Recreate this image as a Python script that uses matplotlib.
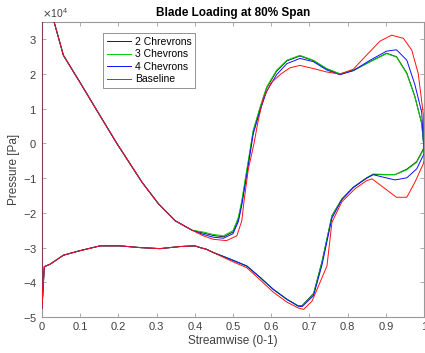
import matplotlib
matplotlib.use("Agg")
import matplotlib.pyplot as plt
from matplotlib.ticker import ScalarFormatter

plt.rcParams['font.family'] = ['Liberation Sans', 'DejaVu Sans']

# leading-edge part of the upper branch, shared by all cases (x, pressure in 1e4 Pa)
le_x = [0.0, 0.032, 0.056, 0.10, 0.141, 0.196, 0.262, 0.305, 0.349, 0.393]
le_p = [4.8, 3.49, 2.54, 1.75, 1.0, 0.0, -1.12, -1.74, -2.23, -2.50]

# lower branch, shared part from mid chord back to the leading edge
low_x = [0.641, 0.605, 0.571, 0.536, 0.492, 0.448, 0.431, 0.414, 0.40, 0.361,
         0.309, 0.257, 0.204, 0.152, 0.099, 0.056, 0.021, 0.006, 0.0]
low_p = [-4.49, -4.20, -3.86, -3.53, -3.33, -3.14, -3.05, -3.0, -2.95, -2.97,
         -3.03, -3.0, -2.95, -2.95, -3.09, -3.22, -3.48, -3.55, -4.75]

# per-case upper branch, trough -> plateau -> trailing edge
up_x = [0.422, 0.448, 0.475, 0.50, 0.514, 0.523, 0.538, 0.553, 0.571, 0.588, 0.614,
        0.641, 0.675, 0.71, 0.745, 0.78, 0.815, 0.859, 0.902, 0.928, 0.955, 0.976,
        0.994, 1.0]
up_2chev = [-2.58, -2.65, -2.69, -2.55, -2.18, -1.70, -0.68, 0.35, 1.02, 1.60, 2.08,
            2.38, 2.52, 2.39, 2.15, 2.0, 2.10, 2.36, 2.60, 2.50, 2.03, 1.36, 0.58, -0.12]
up_3chev = [-2.55, -2.62, -2.66, -2.51, -2.13, -1.65, -0.63, 0.38, 1.05, 1.63, 2.11,
            2.40, 2.54, 2.40, 2.16, 2.01, 2.11, 2.35, 2.59, 2.49, 2.01, 1.34, 0.57, -0.15]
up_4chev = [-2.62, -2.70, -2.73, -2.60, -2.25, -1.78, -0.78, 0.28, 0.95, 1.50, 1.98,
            2.30, 2.45, 2.36, 2.12, 1.98, 2.10, 2.40, 2.66, 2.70, 2.40, 1.70, 0.90, -0.25]
up_x_base = [0.422, 0.448, 0.483, 0.51, 0.523, 0.529, 0.54, 0.555, 0.565, 0.579, 0.60,
             0.625, 0.649, 0.675, 0.71, 0.745, 0.78, 0.815, 0.85, 0.885, 0.915, 0.946,
             0.968, 0.985, 0.998, 1.0]
up_base = [-2.66, -2.76, -2.80, -2.66, -2.23, -1.65, -0.75, 0.0, 0.60, 1.30, 1.75,
           2.0, 2.18, 2.25, 2.16, 2.06, 2.0, 2.14, 2.55, 2.95, 3.12, 3.03,
           2.69, 2.01, 0.86, -0.50]

# per-case lower branch near the trailing edge (x runs backwards)
te_x = [1.0, 0.981, 0.955, 0.924, 0.893, 0.867, 0.85, 0.815, 0.785, 0.759, 0.733,
        0.711, 0.681, 0.671]
te_2chev = [-0.12, -0.52, -0.74, -0.90, -0.90, -0.89, -0.99, -1.26, -1.60, -2.08,
            -3.40, -4.32, -4.67, -4.68]
te_3chev = [-0.15, -0.54, -0.76, -0.90, -0.89, -0.88, -0.99, -1.26, -1.60, -2.08,
            -3.43, -4.34, -4.68, -4.68]
te_4chev = [-0.30, -0.73, -0.99, -1.05, -0.97, -0.90, -1.0, -1.27, -1.62, -2.15,
            -3.50, -4.38, -4.70, -4.69]
te_x_base = [1.0, 0.998, 0.976, 0.955, 0.928, 0.893, 0.864, 0.85, 0.82, 0.785, 0.759,
             0.746, 0.707, 0.685, 0.671, 0.641, 0.605, 0.571, 0.536, 0.492]
te_base = [-0.50, -0.59, -1.12, -1.55, -1.55, -1.26, -1.02, -1.07, -1.30, -1.68, -2.27,
           -3.53, -4.54, -4.78, -4.74, -4.57, -4.28, -3.93, -3.58, -3.37]

labels = ['2 Chrevrons', '3 Chevrons', '4 Chevrons', 'Baseline']
colors = ['#202020', '#00d000', '#1010ff', '#ff1010']
SCALE = 1e4


def loop(ux, up, tx, tp):
    # walk the blade: LE -> upper side -> TE -> lower side -> back to LE
    xs = le_x + ux + tx
    ps = le_p + up + tp
    # the remaining shared lower branch, skipping points the case already has
    start = [i for i, x in enumerate(low_x) if x < min(tx)][0]
    xs = xs + low_x[start:] + [le_x[0]]
    ps = ps + low_p[start:] + [le_p[0]]
    return xs, [p * SCALE for p in ps]


cases = [
    (up_x, up_2chev, te_x, te_2chev),
    (up_x, up_3chev, te_x, te_3chev),
    (up_x, up_4chev, te_x, te_4chev),
    (up_x_base, up_base, te_x_base, te_base),
]

fig = plt.figure(figsize=(4.25, 3.53), dpi=100)
ax = fig.add_axes([42 / 425, 36 / 353, 382 / 425, 295 / 353])

for (ux, up, tx, tp), lab, c in zip(cases, labels, colors):
    xs, ps = loop(ux, up, tx, tp)
    ax.plot(xs, ps, color=c, lw=0.7, label=lab, zorder=3)

ax.set_xlim(0, 1)
ax.set_ylim(-5e4, 3.5e4)
ax.set_xticks([i / 10 for i in range(11)])
ax.set_xticklabels(['0', '0.1', '0.2', '0.3', '0.4', '0.5', '0.6', '0.7', '0.8', '0.9', '1'])
ax.set_yticks([k * SCALE for k in range(-5, 4)])
fmt = ScalarFormatter(useMathText=True)
fmt.set_powerlimits((0, 0))
ax.yaxis.set_major_formatter(fmt)
ax.yaxis.get_offset_text().set_fontsize(7.5)
ax.yaxis.get_offset_text().set_color('0.3')

ax.tick_params(direction='in', top=True, right=True, length=3, width=0.5,
               colors='0.55', labelcolor='0.25', labelsize=8)
for s in ax.spines.values():
    s.set_color('0.6')
    s.set_linewidth(0.8)

ax.set_title('Blade Loading at 80% Span', fontsize=8.5, fontweight='bold', pad=4)
ax.set_xlabel('Streamwise (0-1)', fontsize=8.5, color='0.25', labelpad=2)
ax.set_ylabel('Pressure [Pa]', fontsize=8.5, color='0.25', labelpad=2)

leg = ax.legend(loc='upper left', bbox_to_anchor=(0.16, 0.963), borderaxespad=0,
                fontsize=7.5, fancybox=False, edgecolor='0.5', framealpha=1,
                handlelength=2.3, labelspacing=0.25, borderpad=0.35, handletextpad=0.4)
leg.get_frame().set_linewidth(0.6)
leg.set_zorder(5)

fig.savefig('out.png', dpi=100)
